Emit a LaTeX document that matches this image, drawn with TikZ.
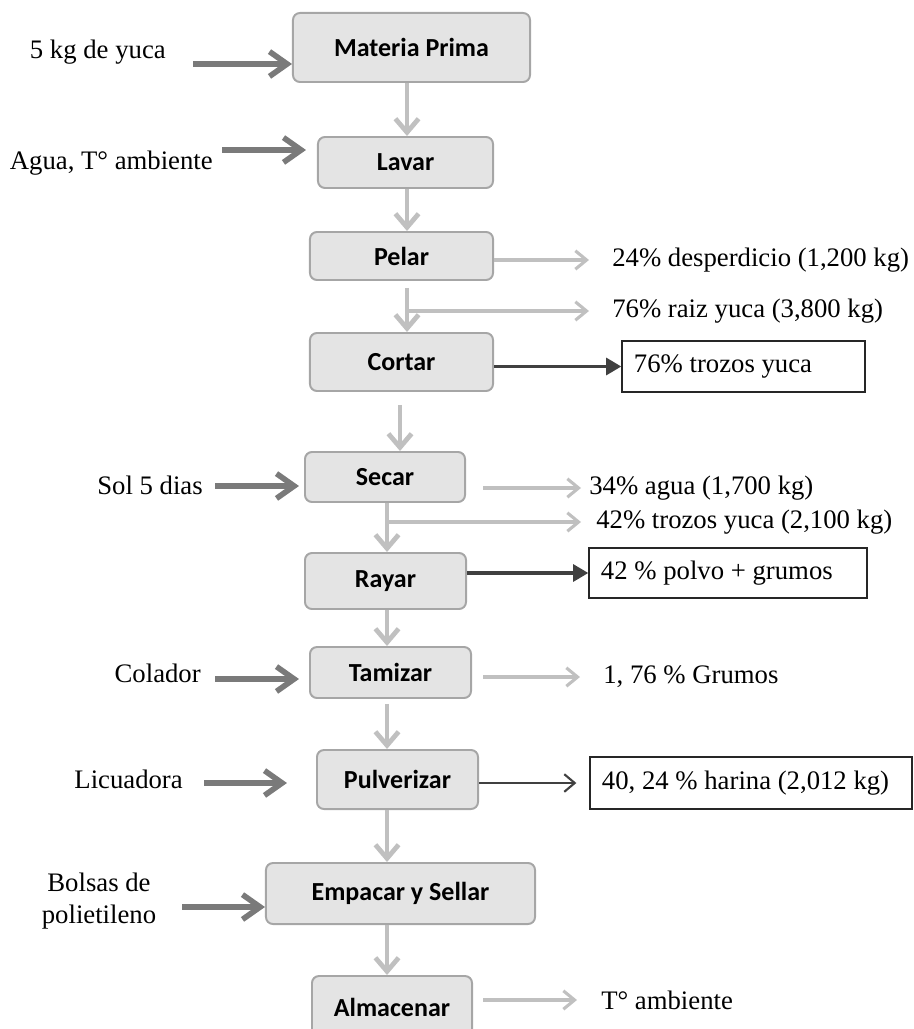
\documentclass[tikz,border=0pt]{standalone}
\usepackage{fontspec}
\setmainfont{Liberation Serif}
\newfontfamily\stepfont{Carlito}
\usepackage{tikz}
\usepackage{xcolor}
\usetikzlibrary{arrows.meta,positioning,calc}
\definecolor{yucafill}{HTML}{E4E4E4}
\definecolor{yucaline}{HTML}{A6A6A6}
\definecolor{yucalight}{HTML}{C0C0C0}
\definecolor{yucamid}{HTML}{7A7A7A}
\definecolor{yucadark}{HTML}{404040}
\tikzset{
  stepBox/.style={draw=yucaline, fill=yucafill, line width=1.4pt, rounded corners=5pt, inner sep=0pt, font=\stepfont\bfseries\fontsize{18.5}{22}\selectfont},
  resultBox/.style={draw=black!85, line width=0.9pt, inner xsep=0.3cm, inner ysep=0pt, align=flush left, font=\fontsize{19}{22}\selectfont},
  noteText/.style={inner sep=0pt, align=flush center, font=\fontsize{19}{22.7}\selectfont},
  flowArrow/.style={-{Straight Barb[length=3.4mm,width=5.8mm]}, draw=yucalight, line width=3.4pt},
  sideArrow/.style={-{Straight Barb[length=2.8mm,width=4.6mm]}, draw=yucalight, line width=2.2pt},
  inArrow/.style={-{Straight Barb[length=4.4mm,width=6.2mm]}, draw=yucamid, line width=4pt},
  outArrow/.style={-{Triangle[length=3.8mm,width=4.2mm]}, draw=yucadark, line width=2.6pt},
  outThin/.style={-{Straight Barb[length=2.6mm,width=4.4mm]}, draw=yucadark, line width=1.5pt}
}

\begin{document}
\begin{tikzpicture}[x=0.025cm, y=-0.025cm]
  \useasboundingbox (0,0) rectangle (913,1029);
  \node[stepBox, minimum width=5.925cm, minimum height=1.725cm] (mp) at (411.5,47.5) {Materia Prima};
  \node[stepBox, minimum width=4.375cm, minimum height=1.275cm] (lavar) at (405.5,162.5) {Lavar};
  \node[stepBox, minimum width=4.575cm, minimum height=1.2cm] (pelar) at (401.5,256) {Pelar};
  \node[stepBox, minimum width=4.575cm, minimum height=1.45cm] (cortar) at (401.5,362) {Cortar};
  \node[stepBox, minimum width=4cm, minimum height=1.25cm] (secar) at (385,477) {Secar};
  \node[stepBox, minimum width=4.025cm, minimum height=1.4cm] (rayar) at (385.5,581) {Rayar};
  \node[stepBox, minimum width=4.025cm, minimum height=1.275cm] (tamizar) at (390.5,672.5) {Tamizar};
  \node[stepBox, minimum width=4.025cm, minimum height=1.475cm] (pulv) at (397.5,779.5) {Pulverizar};
  \node[stepBox, minimum width=6.725cm, minimum height=1.525cm] (empacar) at (400.5,893.5) {Empacar y Sellar};
  \node[stepBox, minimum width=4cm, minimum height=1.55cm] (almacenar) at (392,1007) {Almacenar};

  \node[resultBox, text width=5.475cm, minimum height=1.275cm] (oCortar) at (743.5,366.5) {76\% trozos yuca};
  \node[resultBox, text width=6.35cm, minimum height=1.25cm] (oRayar) at (728,573) {42 \% polvo + grumos};
  \node[resultBox, text width=7.45cm, minimum height=1.3cm] (oPulv) at (751,783) {40, 24 \% harina (2,012 kg)};

  \node[noteText, anchor=west] (tPelar) at (612,260) {24\% desperdicio (1,200 kg)};
  \node[noteText, anchor=west] (tRaiz) at (612,311) {76\% raiz yuca (3,800 kg)};
  \node[noteText, anchor=west] (tAgua) at (589,488) {34\% agua (1,700 kg)};
  \node[noteText, anchor=west] (tTrozos) at (596,522) {42\% trozos yuca (2,100 kg)};
  \node[noteText, anchor=west] (tGrumos) at (603,677) {1, 76 \% Grumos};
  \node[noteText, anchor=west] (tAmb) at (601,1000) {T° ambiente};

  \node[noteText, anchor=east] (inYuca) at (166,52) {5 kg de yuca};
  \node[noteText, anchor=east] (inAgua) at (213,163) {Agua, T° ambiente};
  \node[noteText, anchor=east] (inSol) at (203,485) {Sol 5 dias};
  \node[noteText, anchor=east] (inColador) at (201,673) {Colador};
  \node[noteText, anchor=east] (inLicua) at (183,779) {Licuadora};
  \node[noteText] (inBolsas) at (99,901) {Bolsas de\\ polietileno};

  \coordinate (colTop) at (407,0);
  \coordinate (colMid) at (400,0);
  \coordinate (colLow) at (387,0);
  \coordinate (sYuca) at (193,64);
  \coordinate (sAgua) at (222,150);
  \coordinate (sSol) at (215,486);
  \coordinate (sColador) at (215,679);
  \coordinate (sLicua) at (204,783);
  \coordinate (sBolsas) at (182,907);

  \draw[flowArrow] (mp.south -| colTop) -- (lavar.north -| colTop);
  \draw[flowArrow] (lavar.south -| colTop) -- (pelar.north -| colTop);
  \draw[flowArrow, shorten <=0.175cm] (pelar.south -| colTop) -- (cortar.north -| colTop);
  \draw[flowArrow, shorten <=0.325cm] (cortar.south -| colMid) -- (secar.north -| colMid);
  \draw[flowArrow] (secar.south -| colLow) -- (rayar.north -| colLow);
  \draw[flowArrow] (rayar.south -| colLow) -- (tamizar.north -| colLow);
  \draw[flowArrow, shorten <=0.125cm] (tamizar.south -| colLow) -- (pulv.north -| colLow);
  \draw[flowArrow] (pulv.south -| colLow) -- (empacar.north -| colLow);
  \draw[flowArrow] (empacar.south -| colLow) -- (almacenar.north -| colLow);

  \draw[sideArrow, shorten >=0.575cm] (pelar.east |- tPelar.west) -- (tPelar.west);
  \draw[sideArrow, shorten >=0.575cm] (colTop |- tRaiz.west) -- (tRaiz.west);
  \draw[sideArrow, shorten <=0.425cm, shorten >=0.2cm] (secar.east |- tAgua.west) -- (tAgua.west);
  \draw[sideArrow, shorten >=0.375cm] (colLow |- tTrozos.west) -- (tTrozos.west);
  \draw[sideArrow, shorten <=0.275cm, shorten >=0.575cm] (tamizar.east |- tGrumos.west) -- (tGrumos.west);
  \draw[sideArrow, shorten <=0.25cm, shorten >=0.6cm] (almacenar.east |- tAmb.west) -- (tAmb.west);

  \draw[outArrow] (cortar.east |- oCortar.west) -- (oCortar.west);
  \draw[outArrow] (rayar.east |- oRayar.west) -- (oRayar.west);
  \draw[outThin, shorten >=0.325cm] (pulv.east |- oPulv.west) -- (oPulv.west);

  \draw[inArrow] (sYuca) -- (sYuca -| mp.west);
  \draw[inArrow, shorten >=0.275cm] (sAgua) -- (sAgua -| lavar.west);
  \draw[inArrow, shorten >=0.125cm] (sSol) -- (sSol -| secar.west);
  \draw[inArrow, shorten >=0.25cm] (sColador) -- (sColador -| tamizar.west);
  \draw[inArrow, shorten >=0.725cm] (sLicua) -- (sLicua -| pulv.west);
  \draw[inArrow] (sBolsas) -- (sBolsas -| empacar.west);
\end{tikzpicture}
\end{document}
